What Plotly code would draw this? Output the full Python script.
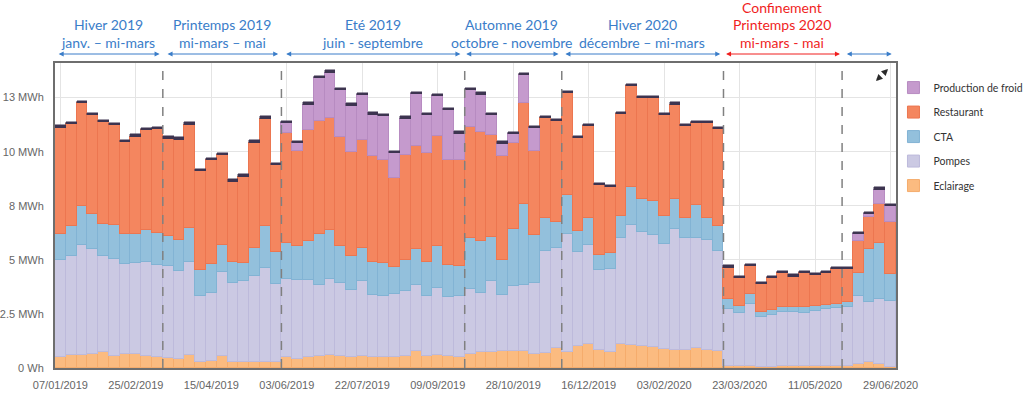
import plotly.graph_objects as go
import pandas as pd

# ---- data (MWh per week) ----
weeks = list(pd.date_range("2019-01-07", periods=78, freq="7D").strftime("%d/%m/%Y"))

eclairage = [0.49, 0.62, 0.62, 0.65, 0.73, 0.54, 0.65, 0.65, 0.56, 0.52,
             0.46, 0.42, 0.59, 0.26, 0.34, 0.54, 0.26, 0.29, 0.26, 0.26,
             0.26, 0.49, 0.40, 0.49, 0.56, 0.60, 0.56, 0.52, 0.56, 0.49,
             0.52, 0.52, 0.57, 0.79, 0.56, 0.62, 0.57, 0.49, 0.65, 0.73,
             0.76, 0.80, 0.80, 0.77, 0.65, 0.71, 0.93, 0.76, 1.00, 1.11,
             0.85, 0.73, 1.10, 1.06, 1.03, 0.96, 0.88, 0.85, 0.83, 0.91,
             0.85, 0.80, 0.11, 0.08, 0.08, 0.06, 0.06, 0.08, 0.08, 0.09,
             0.09, 0.09, 0.09, 0.09, 0.19, 0.29, 0.19, 0.06]

pompes = [4.52, 4.58, 5.05, 4.86, 4.43, 4.48, 4.17, 4.21, 4.34, 4.24,
          4.24, 4.07, 4.32, 3.06, 3.13, 3.89, 3.66, 3.75, 4.01, 4.38,
          3.63, 3.63, 3.69, 3.60, 3.29, 3.52, 3.38, 3.10, 3.44, 2.89,
          2.82, 2.90, 2.98, 3.06, 2.78, 3.09, 2.73, 2.82, 2.99, 2.76,
          3.24, 2.56, 2.98, 3.09, 3.29, 4.69, 4.61, 5.42, 4.35, 4.58,
          3.66, 3.86, 4.91, 5.56, 5.25, 5.20, 4.86, 5.56, 5.17, 5.11,
          5.05, 4.63, 2.62, 2.45, 2.89, 2.28, 2.41, 2.53, 2.53, 2.47,
          2.56, 2.64, 2.67, 2.72, 3.13, 2.75, 2.99, 3.06]

cta = [1.19, 1.36, 1.82, 1.59, 1.50, 1.60, 1.36, 1.34, 1.47, 1.50,
       1.39, 1.44, 1.57, 1.22, 1.34, 1.27, 0.97, 0.83, 1.28, 1.91,
       1.47, 1.68, 1.53, 1.76, 2.33, 2.24, 1.71, 1.54, 1.56, 1.53,
       1.51, 1.27, 1.45, 1.64, 1.56, 1.94, 1.48, 1.40, 2.36, 2.36,
       2.05, 1.65, 2.65, 3.73, 2.22, 1.53, 1.22, 1.81, 1.00, 1.23,
       0.73, 0.73, 1.00, 1.74, 1.51, 1.54, 1.28, 1.39, 0.94, 1.50,
       1.05, 1.13, 0.45, 0.35, 0.46, 0.23, 0.23, 0.20, 0.20, 0.25,
       0.20, 0.19, 0.19, 0.23, 1.06, 2.45, 2.62, 1.22]

restaurant = [4.91, 4.71, 4.74, 4.60, 4.69, 4.61, 4.27, 4.49, 4.61, 4.78,
              4.51, 4.63, 4.77, 4.57, 4.80, 4.14, 3.72, 3.97, 4.86, 4.98,
              4.03, 5.06, 4.40, 5.14, 5.25, 5.22, 5.02, 4.81, 4.97, 4.89,
              4.77, 4.10, 4.83, 4.77, 5.02, 5.09, 4.85, 4.92, 5.14, 5.08,
              4.71, 4.77, 3.97, 4.66, 3.86, 4.61, 4.66, 4.71, 4.27, 4.27,
              3.21, 3.04, 4.71, 4.68, 4.69, 4.78, 4.68, 4.38, 4.23, 3.80,
              4.38, 4.48, 1.45, 1.28, 1.28, 1.31, 1.45, 1.56, 1.42, 1.56,
              1.44, 1.47, 1.62, 1.53, 1.47, 1.48, 1.76, 2.39]

froid = [0, 0, 0, 0, 0, 0, 0, 0, 0, 0,
         0, 0, 0, 0, 0, 0, 0, 0, 0, 0,
         0, 0.45, 0.37, 1.19, 1.98, 2.08, 2.16, 2.16, 2.08, 1.91,
         2.02, 1.13, 1.70, 2.41, 1.77, 1.84, 2.28, 1.20, 1.70, 1.70,
         0.94, 0.59, 0.42, 1.28, 1.06, 0, 0, 0, 0, 0,
         0, 0, 0, 0, 0, 0, 0, 0, 0, 0,
         0, 0, 0, 0, 0, 0, 0, 0, 0, 0,
         0, 0, 0, 0, 0.34, 0.14, 0.68, 0.74]

autres = [0.11, 0.11, 0.11, 0.11, 0.11, 0.11, 0.11, 0.11, 0.11, 0.11,
          0.11, 0.11, 0.11, 0.11, 0.11, 0.11, 0.11, 0.11, 0.11, 0.11,
          0.11, 0.11, 0.11, 0.11, 0.11, 0.11, 0.11, 0.11, 0.11, 0.11,
          0.11, 0.11, 0.11, 0.11, 0.11, 0.11, 0.11, 0.11, 0.11, 0.11,
          0.11, 0.11, 0.11, 0.11, 0.11, 0.11, 0.11, 0.11, 0.11, 0.11,
          0.11, 0.11, 0.11, 0.11, 0.11, 0.11, 0.11, 0.11, 0.11, 0.11,
          0.11, 0.11, 0.11, 0.11, 0.11, 0.11, 0.11, 0.11, 0.11, 0.11,
          0.11, 0.11, 0.11, 0.11, 0.11, 0.11, 0.11, 0.11]

ytick_vals = [0, 2.5, 5, 7.5, 10, 12.5]
ytick_text = ["0 Wh", "2.5 MWh", "5 MWh", "8 MWh", "10 MWh", "13 MWh"]

# period boundaries (between weeks)
boundaries = [9.5, 20.5, 37.5, 46.5, 61.5, 72.5]
periods = [
    (["Hiver 2019", "janv. – mi-mars"], -0.3, 9.2, "#3A7DC9"),
    (["Printemps 2019", "mi-mars – mai"], 9.8, 20.2, "#3A7DC9"),
    (["Eté 2019", "juin - septembre"], 20.8, 37.1, "#3A7DC9"),
    (["Automne 2019", "octobre - novembre"], 37.5, 46.2, "#3A7DC9"),
    (["Hiver 2020", "décembre – mi-mars"], 46.7, 61.2, "#3A7DC9"),
    (["Confinement", "Printemps 2020", "mi-mars - mai"], 61.6, 72.3, "#F01E1E"),
    ([], 72.8, 77.1, "#3A7DC9"),
]

x = list(range(len(weeks)))

series = [
    ("Eclairage", eclairage, "#FBBB80", "#F5AC6C", 5),
    ("Pompes", pompes, "#CBC9E3", "#BDBADB", 4),
    ("CTA", cta, "#93C0DC", "#82B3D4", 3),
    ("Restaurant", restaurant, "#F4865F", "#EC7650", 2),
    ("Production de froid", froid, "#C59ACD", "#B78BC1", 1),
]

fig = go.Figure()
for name, vals, col, lcol, rank in series:
    fig.add_bar(x=x, y=vals, name=name, legendgroup=name, legendrank=rank,
                marker=dict(color=col, line=dict(color=lcol, width=1)))
fig.add_bar(x=x, y=autres, name="Autres", showlegend=False,
            marker=dict(color="#3D3450", line=dict(color="#3D3450", width=0.5)))

shapes = []
for b in boundaries:
    shapes.append(dict(type="line", xref="x", yref="paper", x0=b, x1=b, y0=0, y1=1,
                       line=dict(color="#808080", width=1.5, dash="dash"), layer="above"))

annotations = []
FONT = "Lato, Noto Sans, sans-serif"
line_y = {3: [1.1836, 1.1246, 1.0656], 2: [1.1246, 1.0656]}
for lines, a, b, col in periods:
    mid = (a + b) / 2
    if lines:
        for txt, yy in zip(lines, line_y[len(lines)]):
            annotations.append(dict(x=mid, y=yy, xref="x", yref="paper", text=txt,
                                    showarrow=False, yanchor="middle",
                                    font=dict(family=FONT, size=14, color=col)))
    annotations.append(dict(x=b, y=1.0295, xref="x", yref="paper", ax=a, ay=0,
                            axref="x", ayref="pixel", text="", showarrow=True,
                            arrowside="end+start", arrowhead=2, arrowsize=1,
                            arrowwidth=1, arrowcolor=col, standoff=0, startstandoff=0))

# expand icon (two outward arrows), positions in plot-paper fractions
annotations.append(dict(x=833 / 841, y=299 / 305, xref="paper", yref="paper",
                        ax=-5, ay=5, text="", showarrow=True, arrowhead=2,
                        arrowsize=0.6, arrowwidth=2.2, arrowcolor="#2b2b2b", standoff=0))
annotations.append(dict(x=821 / 841, y=287 / 305, xref="paper", yref="paper",
                        ax=5, ay=-5, text="", showarrow=True, arrowhead=2,
                        arrowsize=0.6, arrowwidth=2.2, arrowcolor="#2b2b2b", standoff=0))

fig.update_layout(
    width=1024, height=396,
    margin=dict(l=55, r=128, t=63, b=28, autoexpand=False),
    barmode="stack", bargap=0,
    plot_bgcolor="white", paper_bgcolor="white",
    shapes=shapes, annotations=annotations,
    legend=dict(x=0.997, y=0.967, xanchor="left", yanchor="top",
                traceorder="grouped", tracegroupgap=5.5,
                font=dict(family=FONT, size=10.5, color="#333333"),
                bgcolor="rgba(0,0,0,0)"),
    xaxis=dict(range=[-0.5, 77.5], tickmode="array",
               tickvals=x[::7], ticktext=weeks[::7],
               showgrid=True, gridcolor="#e4e4e4", gridwidth=1,
               showline=True, mirror=True, linecolor="#6e6e6e", linewidth=2,
               ticks="", zeroline=False, ticklabelstandoff=6,
               tickfont=dict(family="Liberation Sans, Arial, sans-serif", size=11, color="#666666")),
    yaxis=dict(range=[0, 14.1], tickmode="array",
               tickvals=ytick_vals, ticktext=ytick_text,
               showgrid=True, gridcolor="#e4e4e4", gridwidth=1,
               showline=True, mirror=True, linecolor="#6e6e6e", linewidth=2,
               ticks="", zeroline=False, ticklabelstandoff=7,
               tickfont=dict(family="Liberation Sans, Arial, sans-serif", size=11, color="#666666")),
    hovermode=False,
)

# remove the default 8px page margin so the 1024x396 figure fills the window exactly
fig.write_html("out.html", config={"displayModeBar": False},
               post_script="document.body.style.margin='0px';")
